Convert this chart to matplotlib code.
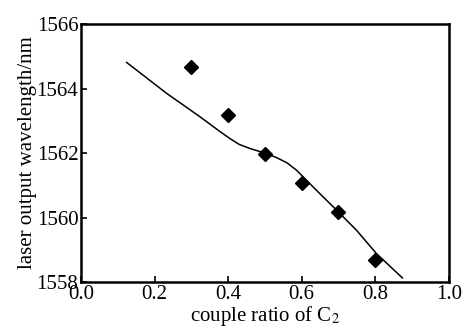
import numpy as np
import matplotlib.pyplot as plt

plt.rcParams['font.family'] = 'Liberation Serif'
plt.rcParams['mathtext.fontset'] = 'stix'

# measured points
ratio = [0.3, 0.4, 0.5, 0.6, 0.7, 0.8]
wavelength = [1564.68, 1563.18, 1561.96, 1561.08, 1560.18, 1558.68]

# fitted curve
fit_x = [0.124, 0.233, 0.323, 0.38, 0.405, 0.43, 0.46, 0.495, 0.53, 0.56, 0.586, 0.640, 0.695, 0.749, 0.803, 0.874]
fit_y = [1564.81, 1563.85, 1563.13, 1562.65, 1562.45, 1562.27, 1562.14, 1562.02, 1561.87, 1561.70, 1561.47, 1560.85, 1560.23, 1559.61, 1558.89, 1558.13]

fig, axs = plt.subplots(figsize=(4.66, 3.3), dpi=100)
plt.subplots_adjust(left=0.174, right=0.963, top=0.927, bottom=0.145)

axs.plot(fit_x, fit_y, color='black', lw=1.1)
axs.plot(ratio, wavelength, 'D', color='black', markersize=7.5)

axs.set_xlim(0, 1.0)
axs.set_ylim(1558, 1566)
axs.set_xticks(np.arange(0, 1.01, 0.2))
axs.set_yticks(np.arange(1558, 1566.1, 2))
axs.set_xticklabels(['0.0', '0.2', '0.4', '0.6', '0.8', '1.0'])
for spine in axs.spines.values():
    spine.set_linewidth(1.8)
axs.tick_params(direction='in', length=4, width=1.2, labelsize=15, pad=2)
axs.set_xlabel('couple ratio of C$_2$', fontsize=15, labelpad=0)
axs.set_ylabel('laser output wavelength/nm', fontsize=15, labelpad=0)

plt.savefig('out.png', dpi=100)
